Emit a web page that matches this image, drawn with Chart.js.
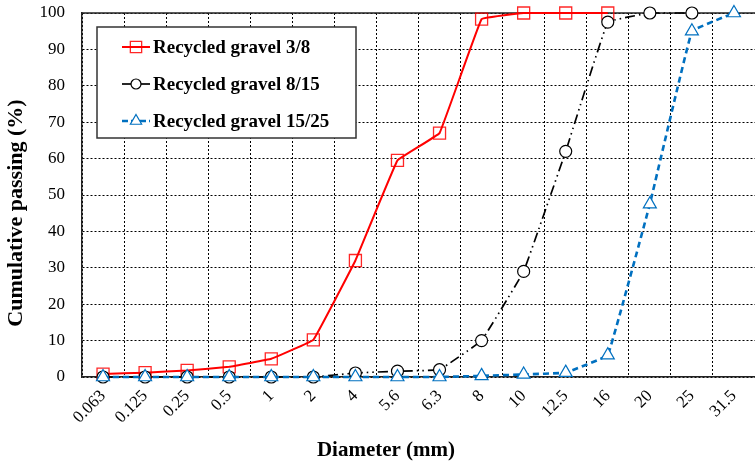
<!DOCTYPE html>
<html>
<head>
<meta charset="utf-8">
<script src="https://cdn.jsdelivr.net/npm/chart.js@4/dist/chart.umd.min.js"></script>
<style>
  html, body { margin: 0; padding: 0; background: #fff; }
  #wrap { width: 755px; height: 463px; position: relative; }
</style>
</head>
<body>
<div id="wrap"><canvas id="c"></canvas></div>
<script>
// ---- data ----
const categories = ['0.063','0.125','0.25','0.5','1','2','4','5.6','6.3','8','10','12.5','16','20','25','31.5'];
const gravel3_8   = [0.8, 1.2, 1.8, 2.8, 5.0, 10.2, 32, 59.5, 67, 98.3, 100, 100, 100, null, null, null];
const gravel8_15  = [0, 0, 0, 0, 0, 0, 1.1, 1.6, 2.0, 10, 29, 62, 97.5, 100, 100, null];
const gravel15_25 = [0, 0, 0, 0, 0, 0, 0, 0, 0, 0.3, 0.7, 1.2, 6, 47.5, 95, 100];
const seriesNames = ['Recycled gravel 3/8', 'Recycled gravel 8/15', 'Recycled gravel 15/25'];
const yTicks = [0, 10, 20, 30, 40, 50, 60, 70, 80, 90, 100];
const xTitle = 'Diameter (mm)';
const yTitle = 'Cumulative passing (%)';

const SERIF = "'Liberation Serif', 'Times New Roman', serif";

const datasets = [
  {
    label: seriesNames[0], data: gravel3_8, order: 2, clip: false,
    borderColor: '#ff0000', borderWidth: 2,
    pointStyle: 'rect', pointRadius: 8.5, pointBorderWidth: 1.3,
    pointBorderColor: 'rgba(255,0,0,0.85)', pointBackgroundColor: 'rgba(255,255,255,0)',
    tension: 0.05, spanGaps: false
  },
  {
    label: seriesNames[1], data: gravel8_15, order: 1, clip: false,
    borderColor: '#000000', borderWidth: 1.7, borderDash: [10, 4, 1.5, 4, 1.5, 4],
    pointStyle: 'circle', pointRadius: 6, pointBorderWidth: 1.2,
    pointBorderColor: '#000', pointBackgroundColor: '#fff',
    tension: 0.05
  },
  {
    label: seriesNames[2], data: gravel15_25, order: 0, clip: false,
    borderColor: '#0070c0', borderWidth: 2.6, borderDash: [6, 4],
    pointStyle: 'triangle', pointRadius: 7.5, pointBorderWidth: 1.2,
    pointBorderColor: '#0070c0', pointBackgroundColor: '#fff',
    tension: 0.05
  }
];

function drawMarker(ctx, style, x, y, r, stroke, fill, lw) {
  ctx.save();
  ctx.lineWidth = lw; ctx.strokeStyle = stroke; ctx.fillStyle = fill;
  ctx.setLineDash([]);
  ctx.beginPath();
  if (style === 'rect') {
    const s = Math.SQRT1_2 * r;
    ctx.rect(x - s, y - s, 2 * s, 2 * s);
  } else if (style === 'circle') {
    ctx.arc(x, y, r, 0, Math.PI * 2);
  } else if (style === 'triangle') {
    let rad = 0;
    ctx.moveTo(x + Math.sin(rad) * r, y - Math.cos(rad) * r);
    rad += 2 * Math.PI / 3;
    ctx.lineTo(x + Math.sin(rad) * r, y - Math.cos(rad) * r);
    rad += 2 * Math.PI / 3;
    ctx.lineTo(x + Math.sin(rad) * r, y - Math.cos(rad) * r);
    ctx.closePath();
  }
  ctx.fill(); ctx.stroke();
  ctx.restore();
}

const decorPlugin = {
  id: 'decor',
  beforeDatasetsDraw(chart) {
    const ctx = chart.ctx;
    const a = chart.chartArea;
    // solid top border of plot area
    ctx.save();
    ctx.strokeStyle = '#222'; ctx.lineWidth = 1.5; ctx.setLineDash([]);
    ctx.beginPath(); ctx.moveTo(a.left, a.top); ctx.lineTo(a.right, a.top); ctx.stroke();
    ctx.restore();
  },
  afterDraw(chart) {
    const ctx = chart.ctx;
    // legend box
    const bx = 97, by = 27, bw = 259, bh = 111;
    ctx.save();
    ctx.fillStyle = '#fff'; ctx.fillRect(bx, by, bw, bh);
    ctx.strokeStyle = '#333'; ctx.lineWidth = 1.5; ctx.strokeRect(bx, by, bw, bh);
    const rowsY = [47, 84, 121];
    chart.data.datasets.forEach((ds, i) => {
      const y = rowsY[i];
      ctx.save();
      ctx.strokeStyle = ds.borderColor; ctx.lineWidth = ds.borderWidth;
      ctx.setLineDash(i === 1 ? [] : (ds.borderDash || []));
      if (i === 2) ctx.setLineDash([6, 3]);
      ctx.beginPath(); ctx.moveTo(122, y); ctx.lineTo(150, y); ctx.stroke();
      ctx.restore();
      const r = ds.pointStyle === 'rect' ? 8 : (ds.pointStyle === 'circle' ? 5 : 6.5);
      drawMarker(ctx, ds.pointStyle, 136, y, r, ds.pointBorderColor, ds.pointBackgroundColor, ds.pointBorderWidth);
      ctx.fillStyle = '#000';
      ctx.font = 'bold 19px ' + SERIF;
      ctx.textBaseline = 'middle'; ctx.textAlign = 'left';
      ctx.fillText(ds.label, 153, y + 1);
    });
    ctx.restore();

    // axis titles
    ctx.save();
    ctx.fillStyle = '#000';
    ctx.font = 'bold 21px ' + SERIF;
    ctx.textAlign = 'center'; ctx.textBaseline = 'middle';
    ctx.fillText(xTitle, 386, 451);
    ctx.translate(16, 213);
    ctx.rotate(-Math.PI / 2);
    ctx.font = 'bold 22px ' + SERIF;
    ctx.fillText(yTitle, 0, 0);
    ctx.restore();
  }
};

new Chart(document.getElementById('c'), {
  type: 'line',
  data: { labels: categories, datasets },
  plugins: [decorPlugin],
  options: {
    responsive: true,
    maintainAspectRatio: false,
    animation: false,
    layout: { autoPadding: false, padding: { top: 13, right: 0, bottom: 0, left: 0 } },
    plugins: { legend: { display: false }, tooltip: { enabled: false }, title: { display: false } },
    scales: {
      x: {
        type: 'category',
        offset: true,
        grid: { display: true, offset: true, color: '#000', lineWidth: 1, drawTicks: false },
        border: { display: true, color: '#222', width: 1.5, dash: [2, 2] },
        ticks: {
          autoSkip: false, maxRotation: 45, minRotation: 45, padding: 9,
          color: '#000', font: { family: SERIF, size: 17 }
        },
        afterFit(s) { s.height = 86; s.paddingLeft = 0; s.paddingRight = 0; }
      },
      y: {
        min: 0, max: 100,
        afterBuildTicks(s) { s.ticks = yTicks.map(v => ({ value: v })); },
        grid: { display: true, color: '#000', lineWidth: 1, drawTicks: false },
        border: { display: true, color: '#222', width: 1.5, dash: [2, 2] },
        ticks: { padding: 17, color: '#000', font: { family: SERIF, size: 17 } },
        afterFit(s) { s.width = 82; s.paddingTop = 0; s.paddingBottom = 0; }
      }
    }
  }
});
</script>
</body>
</html>
